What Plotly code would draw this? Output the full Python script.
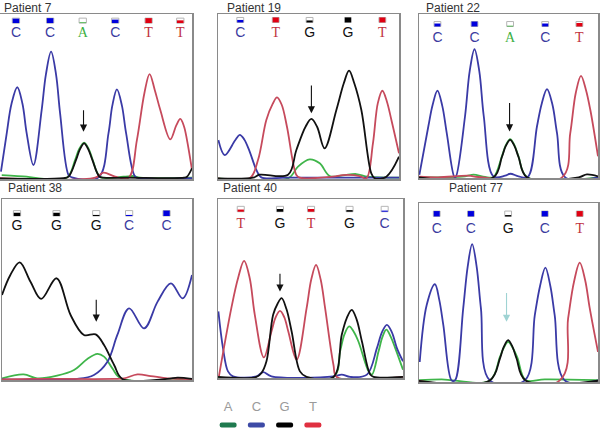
import plotly.graph_objects as go

# ---------------- data: base calls, call quality, traces (scan %, signal %) ----------------
p7_bases = ["C", "C", "A", "C", "T", "T"]
p7_pos = [8.3, 26.1, 43.1, 60.0, 77.4, 93.9]
p7_qual = [0.9, 1.0, 0.15, 0.7, 1.0, 0.55]
p7_A = [(0.9, 2.4), (13.9, 1.4), (17.4, 0.8), (34.8, 0.8), (39.1, 11.5), (41.2, 18), (43.8, 22.0), (46.3, 18), (48.3, 11.5), (52.2, 1.4), (64.3, 1.4), (69.6, 1.8), (73, 0.8), (100, 0.8)]
p7_C = [(0.5, 4.4), (3.5, 27.7), (6.0, 45.6), (9.0, 55.6), (11.7, 45.6), (13.9, 27.7), (17.4, 8.5), (21.7, 41.8), (23.9, 63.3), (26.6, 77.2), (29.2, 63.3), (31.3, 39.8), (35.7, 2.4), (37.4, 1.0), (51.3, 1.0), (56.5, 27.7), (58.5, 44.5), (60.9, 54.3), (63.5, 44.5), (65.7, 27.7), (70.4, 1.4), (73, 0.5), (100, 0.5)]
p7_G = [(0, 0.3), (33, 0.5), (35.7, 1.4), (39.7, 11.9), (41.5, 17.7), (43.8, 21.6), (46.1, 17.7), (48, 11.9), (51.8, 1.4), (54, 0.8), (66, 0.8), (96, 0.8), (97.4, 1.4), (100, 6.5)]
p7_T = [(0, 0.5), (49.6, 0.8), (53.9, 3.8), (60, 1.4), (67, 0.8), (71.3, 23.6), (75.2, 52), (77.9, 63.6), (80.6, 54), (83.5, 41.8), (88.7, 24), (91.8, 32.5), (93.9, 36.4), (95.8, 32), (97.4, 23.6), (100, 5.5)]
p7_arrow = [43.5, 42.6, 28.7]

p19_bases = ["C", "T", "G", "G", "T"]
p19_pos = [12.3, 31.9, 50.6, 71.8, 90.8]
p19_qual = [0.5, 1.0, 0.4, 1.0, 1.0]
p19_A = [(0, 0.4), (38.7, 0.4), (44.2, 7.5), (50.6, 11.9), (56.2, 9.5), (61.7, 1.8), (69, 2.2), (76.4, 3), (82.9, 1.4), (100, 0.8)]
p19_C = [(0.2, 23.6), (3.7, 14.5), (9.5, 23.5), (12, 26.7), (14.5, 24), (17.5, 16.6), (21.2, 5.5), (23.9, 1), (37.8, 0.8), (100, 0.8)]
p19_G = [(0, 0.4), (19.3, 0.8), (23, 2.6), (38.7, 2.6), (43.3, 17.6), (48.5, 32), (51.6, 36.4), (54.8, 31.5), (58.9, 18.6), (65.4, 41.8), (69.5, 58), (72.4, 65.7), (75.3, 58), (79.2, 41.8), (84.7, 3.4), (86.6, 0.4), (93, 1.4), (100, 13.5)]
p19_T = [(0, 0.4), (17.5, 0.4), (22.1, 11.5), (26.7, 35.8), (30.2, 45.5), (32.6, 49.5), (35.2, 45), (38.1, 31.7), (43.3, 2.4), (45.1, 0.8), (63.5, 1.4), (69, 2.4), (78.3, 1.8), (82, 0.4), (85.6, 21.6), (88.3, 46), (90.8, 53.5), (93.3, 47), (95.8, 35.8), (100, 15.6)]
p19_arrow = [51.6, 57.6, 39.8]

p22_bases = ["C", "C", "A", "C", "T"]
p22_pos = [10.3, 31.0, 50.9, 70.5, 89.6]
p22_qual = [0.6, 1.0, 0.15, 0.6, 0.7]
p22_A = [(0.2, 0.4), (25.7, 1), (30.4, 2), (36.9, 0.6), (41.6, 0.6), (46.3, 13.2), (48.5, 20), (50.9, 23.7), (53.3, 20), (55.6, 13.2), (60.3, 0.6), (100, 0.4)]
p22_C = [(0.2, 2), (5.2, 31.4), (7.6, 44.5), (10.3, 53.3), (13, 44), (15.5, 27.4), (19.8, 0.6), (20.5, 0.6), (25.7, 37.5), (28.3, 65), (31, 78.5), (33.7, 65), (36.2, 37.5), (41.6, 1), (48.1, 1.4), (51, 2.6), (55.6, 1), (60.8, 0.6), (65.9, 31.4), (68.6, 45.5), (71.5, 54.2), (74.5, 45), (77.1, 27.4), (81.7, 0.4), (100, 0.4)]
p22_G = [(0, 0.3), (41.6, 0.4), (46.3, 12.8), (48.5, 19.6), (50.9, 23.3), (53.3, 19.6), (55.6, 12.8), (60.3, 0.4), (89.2, 0.4), (93.8, 2.2), (100, 1)]
p22_T = [(0, 0.8), (10.8, 0.4), (27.6, 1.4), (33.2, 0.6), (79.9, 0.4), (84.5, 27.4), (87.6, 52), (90.5, 62.3), (93.2, 54), (95.7, 41.6), (100, 13.2)]
p22_arrow = [50.6, 46.7, 28.4]

p38_bases = ["G", "G", "G", "C", "C"]
p38_pos = [7.9, 28.7, 49.6, 66.9, 86.6]
p38_qual = [0.6, 0.6, 0.2, 0.2, 1.0]
p38_A = [(0, 0.9), (11.4, 3.1), (18.5, 0.9), (29, 2.4), (37.9, 5.5), (44.9, 11.6), (50.2, 14.4), (53.7, 12.9), (58.1, 6.4), (62.5, 0.9), (100, 0.6)]
p38_C = [(0, 0.4), (39.6, 0.6), (48.4, 2.8), (55.5, 10.1), (60.7, 24.9), (66.9, 39.6), (74.8, 28.5), (81.9, 43.3), (88.9, 53.4), (95.1, 45.1), (100, 58)]
p38_G = [(0, 47), (4.4, 58), (9.3, 65), (15, 54.3), (20.6, 44.8), (28.7, 56.2), (36.1, 35.9), (43.1, 24.9), (49.3, 25.2), (53.7, 19.3), (59, 8.3), (63.4, 0.6), (87.1, 0.6), (92.4, 1.3), (100, 0.6)]
p38_T = [(0, 0.4), (15, 0.6), (59, 0.6), (64.3, 0.9), (71.3, 3.1), (78.3, 2.2), (87.1, 0.9), (94.2, 0.6), (100, 0.4)]
p38_arrow = [49.6, 45.1, 32.2]

p40_bases = ["T", "G", "T", "G", "C"]
p40_pos = [12.3, 33.5, 50.3, 71.1, 90.1]
p40_qual = [0.4, 0.5, 0.5, 0.3, 0.2]
p40_A = [(0, 0.4), (62.4, 0.6), (66, 14.9), (68.4, 24.5), (70.9, 28.8), (73.3, 26), (75.9, 20.4), (81.4, 3.7), (83.2, 1.9), (86.8, 14.9), (88.9, 23), (91, 27), (93.4, 23), (95.8, 16.7), (100, 4.6)]
p40_C = [(0.2, 37.2), (2.7, 16.7), (5.4, 3.7), (8.1, 0.9), (20.8, 0.9), (24.4, 3.3), (28.9, 0.9), (62.4, 0.9), (66.9, 1.9), (71.4, 0.6), (80.5, 1.9), (85.9, 16.7), (88.6, 25.5), (91.3, 29.7), (94, 25.5), (96.7, 16.7), (100, 9.3)]
p40_G = [(0, 0.6), (20.8, 0.6), (23.5, 2.8), (26.2, 9.3), (29.8, 35.3), (32.2, 41.5), (34.4, 44.6), (37, 38.5), (39.8, 26), (44.3, 3.7), (47.9, 0.6), (62.4, 0.6), (66.9, 24.2), (69.6, 33.5), (72.3, 38.1), (75, 32.5), (77.8, 20.4), (82.3, 1.9), (84.1, 0.6), (100, 0.6)]
p40_T = [(0.5, 0.9), (7.2, 39), (10.9, 56), (14.1, 65.4), (17.1, 56), (19.9, 35.3), (24.8, 11.5), (28.9, 26), (31.2, 34), (33.5, 37.5), (35.8, 34), (38, 26), (42.5, 10.2), (47.9, 39), (50.4, 55), (53, 63.2), (55.5, 55), (57.9, 39), (62.4, 7.4), (64.2, 0.6), (100, 0.6)]
p40_arrow = [33.5, 59.1, 48.3]

p77_bases = ["C", "C", "G", "C", "T"]
p77_pos = [9.9, 29.0, 49.8, 70.3, 89.8]
p77_qual = [1.0, 1.0, 0.25, 1.0, 1.0]
p77_A = [(0, 1.1), (12.6, 1.5), (39.6, 0.9), (45.2, 14), (47.3, 19), (49.8, 22.4), (52.4, 19), (55, 13.5), (59.5, 1.1), (70.3, 1.5), (100, 1.1)]
p77_C = [(0.4, 11.2), (4.3, 43), (8.9, 54.6), (11.3, 46), (13.6, 31.8), (18.2, 0.9), (20.1, 0.9), (24.7, 41.1), (27.2, 64.5), (29.7, 77), (32.2, 64.5), (34.6, 41.1), (39.6, 0.9), (59.1, 0.9), (64.7, 37.4), (67.6, 53.5), (70.6, 63.9), (73.4, 53.5), (75.8, 37.4), (81.4, 0.9), (100, 0.9)]
p77_G = [(0, 0.6), (39.6, 0.9), (45.2, 13.1), (47.3, 19.5), (49.8, 23.4), (52.3, 19.5), (54.5, 13.1), (59.5, 0.9), (100, 0.7)]
p77_T = [(0, 0.6), (78.6, 0.9), (83.3, 35.5), (86.6, 56), (89.8, 66.7), (92.8, 57), (95.4, 41.1), (100, 16.8)]
p77_arrow = [48.9, 50.5, 33.6]

legend_bases = ["A", "C", "G", "T"]

# ---------------- styling ----------------
TRACE_COL = {"A": "#3fb54a", "C": "#3a3aa6", "G": "#111111", "T": "#c64a5c"}
LETTER_COL = {"A": "#3cb043", "C": "#3b3ba0", "G": "#111111", "T": "#c0303c"}
QUAL_COL = {"A": "#33b033", "C": "#0000dd", "G": "#000000", "T": "#e00012"}
LEGEND_COL = {"A": "#1f7a4f", "C": "#3d4aa6", "G": "#000000", "T": "#e03040"}
LETTER_FONT = {"A": "Liberation Serif", "C": "Liberation Sans", "G": "Liberation Sans", "T": "Liberation Serif"}

W, H = 600, 432

panels = [
    dict(title="Patient 7", bases=p7_bases, pos=p7_pos, qual=p7_qual,
         tr={"A": p7_A, "C": p7_C, "T": p7_T, "G": p7_G}, arrow=p7_arrow, acol="#111111",
         box=(0, 14, 192, 179), tpos=(2, 8), ly=88.3, sy=96.0),
    dict(title="Patient 19", bases=p19_bases, pos=p19_pos, qual=p19_qual,
         tr={"A": p19_A, "C": p19_C, "T": p19_T, "G": p19_G}, arrow=p19_arrow, acol="#111111",
         box=(218, 14, 399, 179), tpos=(225, 8), ly=88.3, sy=96.4),
    dict(title="Patient 22", bases=p22_bases, pos=p22_pos, qual=p22_qual,
         tr={"A": p22_A, "C": p22_C, "T": p22_T, "G": p22_G}, arrow=p22_arrow, acol="#111111",
         box=(419, 14, 598, 178), tpos=(424, 8), ly=85.2, sy=93.9),
    dict(title="Patient 38", bases=p38_bases, pos=p38_pos, qual=p38_qual,
         tr={"A": p38_A, "C": p38_C, "T": p38_T, "G": p38_G}, arrow=p38_arrow, acol="#111111",
         box=(2, 199, 192, 380), tpos=(6, 188), ly=84.7, sy=92.1),
    dict(title="Patient 40", bases=p40_bases, pos=p40_pos, qual=p40_qual,
         tr={"A": p40_A, "C": p40_C, "T": p40_T, "G": p40_G}, arrow=p40_arrow, acol="#111111",
         box=(218, 199, 403, 378), tpos=(221, 188), ly=85.5, sy=94.4),
    dict(title="Patient 77", bases=p77_bases, pos=p77_pos, qual=p77_qual,
         tr={"A": p77_A, "C": p77_C, "T": p77_T, "G": p77_G}, arrow=p77_arrow, acol="#9fd3d3",
         box=(419, 203, 598, 382), tpos=(447, 188), ly=85.1, sy=94.0),
]

fig = go.Figure()
annotations = []
layout_axes = {}

for i, p in enumerate(panels, start=1):
    sfx = "" if i == 1 else str(i)
    xa, ya = "x" + sfx, "y" + sfx
    x0, y0, x1, y1 = p["box"]
    axstyle = dict(showgrid=False, zeroline=False, showticklabels=False, ticks="",
                   showline=True, mirror=True, linecolor="#8a8a8a", linewidth=1.5,
                   fixedrange=True)
    layout_axes["xaxis" + sfx] = dict(domain=[x0 / W, x1 / W], range=[0, 100], anchor=ya, **axstyle)
    layout_axes["yaxis" + sfx] = dict(domain=[1 - y1 / H, 1 - y0 / H], range=[0, 100], anchor=xa, **axstyle)

    # chromatogram traces
    for b in ["A", "C", "T", "G"]:
        pts = p["tr"][b]
        fig.add_trace(go.Scatter(
            x=[q[0] for q in pts], y=[q[1] for q in pts], mode="lines",
            line=dict(color=TRACE_COL[b], width=1.8, shape="spline", smoothing=1.0),
            xaxis=xa, yaxis=ya, hoverinfo="skip", showlegend=False))

    # quality boxes
    n = len(p["bases"])
    qh = 3.0
    fig.add_trace(go.Bar(
        x=p["pos"], y=[qh] * n, base=[p["sy"] - qh / 2] * n, width=3.8,
        marker=dict(color="white", line=dict(color="#b5b5b5", width=1)),
        xaxis=xa, yaxis=ya, hoverinfo="skip", showlegend=False))
    fig.add_trace(go.Bar(
        x=p["pos"], y=[qh * q for q in p["qual"]], base=[p["sy"] - qh / 2] * n, width=3.4,
        marker=dict(color=[QUAL_COL[b] for b in p["bases"]], line=dict(width=0)),
        xaxis=xa, yaxis=ya, hoverinfo="skip", showlegend=False))

    # base letters
    fig.add_trace(go.Scatter(
        x=p["pos"], y=[p["ly"]] * n, mode="text", text=p["bases"],
        textposition="middle center",
        textfont=dict(size=14, color=[LETTER_COL[b] for b in p["bases"]],
                      family=[LETTER_FONT[b] for b in p["bases"]]),
        xaxis=xa, yaxis=ya, hoverinfo="skip", showlegend=False))

    # arrow pointing at the variant
    axp, atop, atip = p["arrow"]
    annotations.append(dict(
        x=axp, y=atip, ax=axp, ay=atop, xref=xa, yref=ya, axref=xa, ayref=ya,
        text="", showarrow=True, arrowhead=2, arrowsize=1.3, arrowwidth=1.1,
        arrowcolor=p["acol"], standoff=0))

    # title
    tx, ty = p["tpos"]
    annotations.append(dict(
        x=tx / W, y=1 - ty / H, xref="paper", yref="paper", xanchor="left", yanchor="middle",
        text=p["title"], showarrow=False,
        font=dict(family="Liberation Sans", size=12, color="#333333")))

# colour key at the bottom
layout_axes["xaxis7"] = dict(domain=[214 / W, 327 / W], range=[-0.5, 3.5], anchor="y7",
                             visible=False, fixedrange=True)
layout_axes["yaxis7"] = dict(domain=[0, 1 - 398 / H], range=[0, 10], anchor="x7",
                             visible=False, fixedrange=True)
key_x = list(range(len(legend_bases)))
fig.add_trace(go.Bar(
    x=key_x, y=[1.5] * 4, base=[1.3] * 4, width=0.6,
    marker=dict(color=[LEGEND_COL[b] for b in legend_bases], line=dict(width=0), cornerradius=2),
    xaxis="x7", yaxis="y7", hoverinfo="skip", showlegend=False))
fig.add_trace(go.Scatter(
    x=key_x, y=[7.0] * 4, mode="text", text=legend_bases, textposition="middle center",
    textfont=dict(size=13, color="#9a9a9a", family="Liberation Sans Narrow, Liberation Sans"),
    xaxis="x7", yaxis="y7", hoverinfo="skip", showlegend=False))

fig.update_layout(
    width=W, height=H, margin=dict(l=0, r=0, t=0, b=0),
    paper_bgcolor="white", plot_bgcolor="white",
    barmode="overlay", showlegend=False,
    annotations=annotations, **layout_axes)

fig.write_html("out.html", config={"displayModeBar": False, "staticPlot": True},
               post_script="document.body.style.margin='0';")
